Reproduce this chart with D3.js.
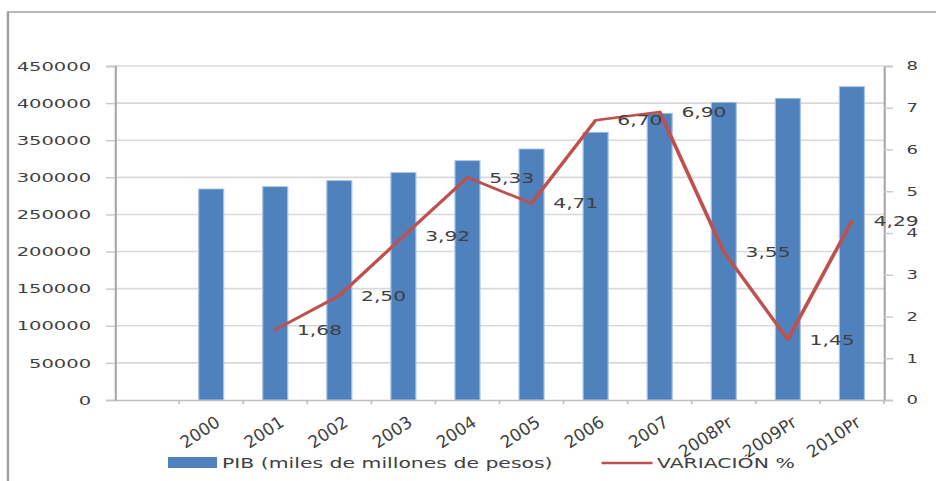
<!DOCTYPE html>
<html>
<head>
<meta charset="utf-8">
<script src="https://cdn.jsdelivr.net/npm/d3@7/dist/d3.min.js"></script>
<style>
  html, body { margin: 0; padding: 0; background: #ffffff; }
  svg { display: block; }
</style>
</head>
<body>
<svg id="chart" width="936" height="481"></svg>
<script>
// ---- data ----
const categories = ["2000", "2001", "2002", "2003", "2004", "2005", "2006", "2007", "2008Pr", "2009Pr", "2010Pr"];
const pib = [284300, 287400, 295500, 306300, 322400, 338200, 360700, 386300, 401100, 406500, 422100];
const variacion = [null, 1.68, 2.50, 3.92, 5.33, 4.71, 6.70, 6.90, 3.55, 1.45, 4.29];
const variacionLabels = [null, "1,68", "2,50", "3,92", "5,33", "4,71", "6,70", "6,90", "3,55", "1,45", "4,29"];
const leftTicks = [0, 50000, 100000, 150000, 200000, 250000, 300000, 350000, 400000, 450000];
const rightTicks = [0, 1, 2, 3, 4, 5, 6, 7, 8];
const legendBar = "PIB (miles de millones de pesos)";
const legendLine = "VARIACIÓN %";

// ---- layout (inner coords, drawn stretched 1.5x horizontally like the reference) ----
const SX = 1.5;
const plotLeft = 76.7, plotRight = 589.3, plotTop = 66, plotBottom = 400;
const font = "'DejaVu Sans', Verdana, sans-serif";
const textColor = "#404040";

const svg = d3.select("#chart");
const g = svg.append("g").attr("transform", `scale(${SX},1)`);

// frame
g.append("path")
  .attr("d", `M5.3,481 V12 H624`)
  .attr("fill", "none").attr("stroke", "#a0a0a0").attr("stroke-width", 1.6);

const x = d3.scaleBand().domain([""].concat(categories))
  .range([plotLeft, plotRight]).paddingInner(0.61).paddingOuter(0.305);
const yL = d3.scaleLinear().domain([0, 450000]).range([plotBottom, plotTop]);
const yR = d3.scaleLinear().domain([0, 8]).range([plotBottom, plotTop]);

// gridlines
g.append("g").selectAll("line").data(leftTicks.filter(d => d > 0)).join("line")
  .attr("x1", plotLeft).attr("x2", plotRight)
  .attr("y1", d => yL(d)).attr("y2", d => yL(d))
  .attr("stroke", "#d9d9d9").attr("stroke-width", 1.6);

// bars
g.append("g").selectAll("rect").data(categories).join("rect")
  .attr("x", d => x(d)).attr("width", x.bandwidth())
  .attr("y", (d, i) => yL(pib[i])).attr("height", (d, i) => yL(0) - yL(pib[i]))
  .attr("fill", "#4f81bd").attr("stroke", "#a9c1e0").attr("stroke-width", 0.8);

// left axis
const axL = g.append("g").attr("transform", `translate(${plotLeft},0)`)
  .call(d3.axisLeft(yL).tickValues(leftTicks).tickSize(6).tickPadding(10).tickFormat(d3.format("d")));
axL.select(".domain").attr("stroke", "#a6a6a6").attr("stroke-width", 1.4);
axL.selectAll(".tick line").attr("stroke", "#c8c8c8").attr("stroke-width", 1.4);
axL.selectAll("text").attr("font-family", font).attr("font-size", 13).attr("fill", textColor);

// right axis
const axR = g.append("g").attr("transform", `translate(${plotRight},0)`)
  .call(d3.axisRight(yR).tickValues(rightTicks).tickSize(6).tickPadding(9).tickFormat(d3.format("d")));
axR.select(".domain").attr("stroke", "#a6a6a6").attr("stroke-width", 1.4);
axR.selectAll(".tick line").attr("stroke", "#c8c8c8").attr("stroke-width", 1.4);
axR.selectAll("text").attr("font-family", font).attr("font-size", 12).attr("fill", textColor);

// x axis
const axB = g.append("g").attr("transform", `translate(0,${plotBottom})`)
  .call(d3.axisBottom(x).tickSize(0).tickFormat(""));
axB.select(".domain").attr("stroke", "#bfbfbf").attr("stroke-width", 1.4);
axB.selectAll(".tick").remove();
const bounds = d3.range(x.domain().length + 1).map(i => plotLeft + i * x.step());
axB.selectAll("line.b").data(bounds.slice(1)).join("line").attr("class", "b")
  .attr("x1", d => d).attr("x2", d => d).attr("y1", 0).attr("y2", 4)
  .attr("stroke", "#bfbfbf").attr("stroke-width", 1.2);

// x labels, in screen space, rotated to the stretched 45deg angle
const ang = -Math.atan2(1, SX) * 180 / Math.PI;
svg.append("g").selectAll("text").data(categories).join("text")
  .attr("transform", d => `translate(${(x(d) + x.bandwidth() / 2) * SX + 10},425) rotate(${ang})`)
  .attr("text-anchor", "end")
  .attr("font-family", font).attr("font-size", 17).attr("fill", textColor)
  .text(d => d);

// line
const pts = categories.map((c, i) => ({ c, v: variacion[i], l: variacionLabels[i] })).filter(p => p.v != null);
const line = d3.line().x(p => x(p.c) + x.bandwidth() / 2).y(p => yR(p.v));
g.append("path").datum(pts).attr("d", line)
  .attr("fill", "none").attr("stroke", "#c0504d").attr("stroke-width", 2.6)
  .attr("stroke-linejoin", "round").attr("stroke-linecap", "round");

// data labels
g.append("g").selectAll("text").data(pts).join("text")
  .attr("x", p => x(p.c) + x.bandwidth() / 2 + 14.5)
  .attr("y", p => yR(p.v)).attr("dy", "0.38em")
  .attr("font-family", font).attr("font-size", 13.5).attr("fill", textColor)
  .text(p => p.l);

// legend
const lg = g.append("g");
lg.append("rect").attr("x", 112).attr("y", 457).attr("width", 32.7).attr("height", 11).attr("fill", "#4f81bd");
lg.append("text").attr("x", 148).attr("y", 468).attr("font-family", font).attr("font-size", 13.6)
  .attr("fill", textColor).text(legendBar);
lg.append("line").attr("x1", 401).attr("x2", 435).attr("y1", 463).attr("y2", 463)
  .attr("stroke", "#c0504d").attr("stroke-width", 2.6);
lg.append("text").attr("x", 438).attr("y", 468).attr("font-family", font).attr("font-size", 13.6)
  .attr("fill", textColor).text(legendLine);
</script>
</body>
</html>
